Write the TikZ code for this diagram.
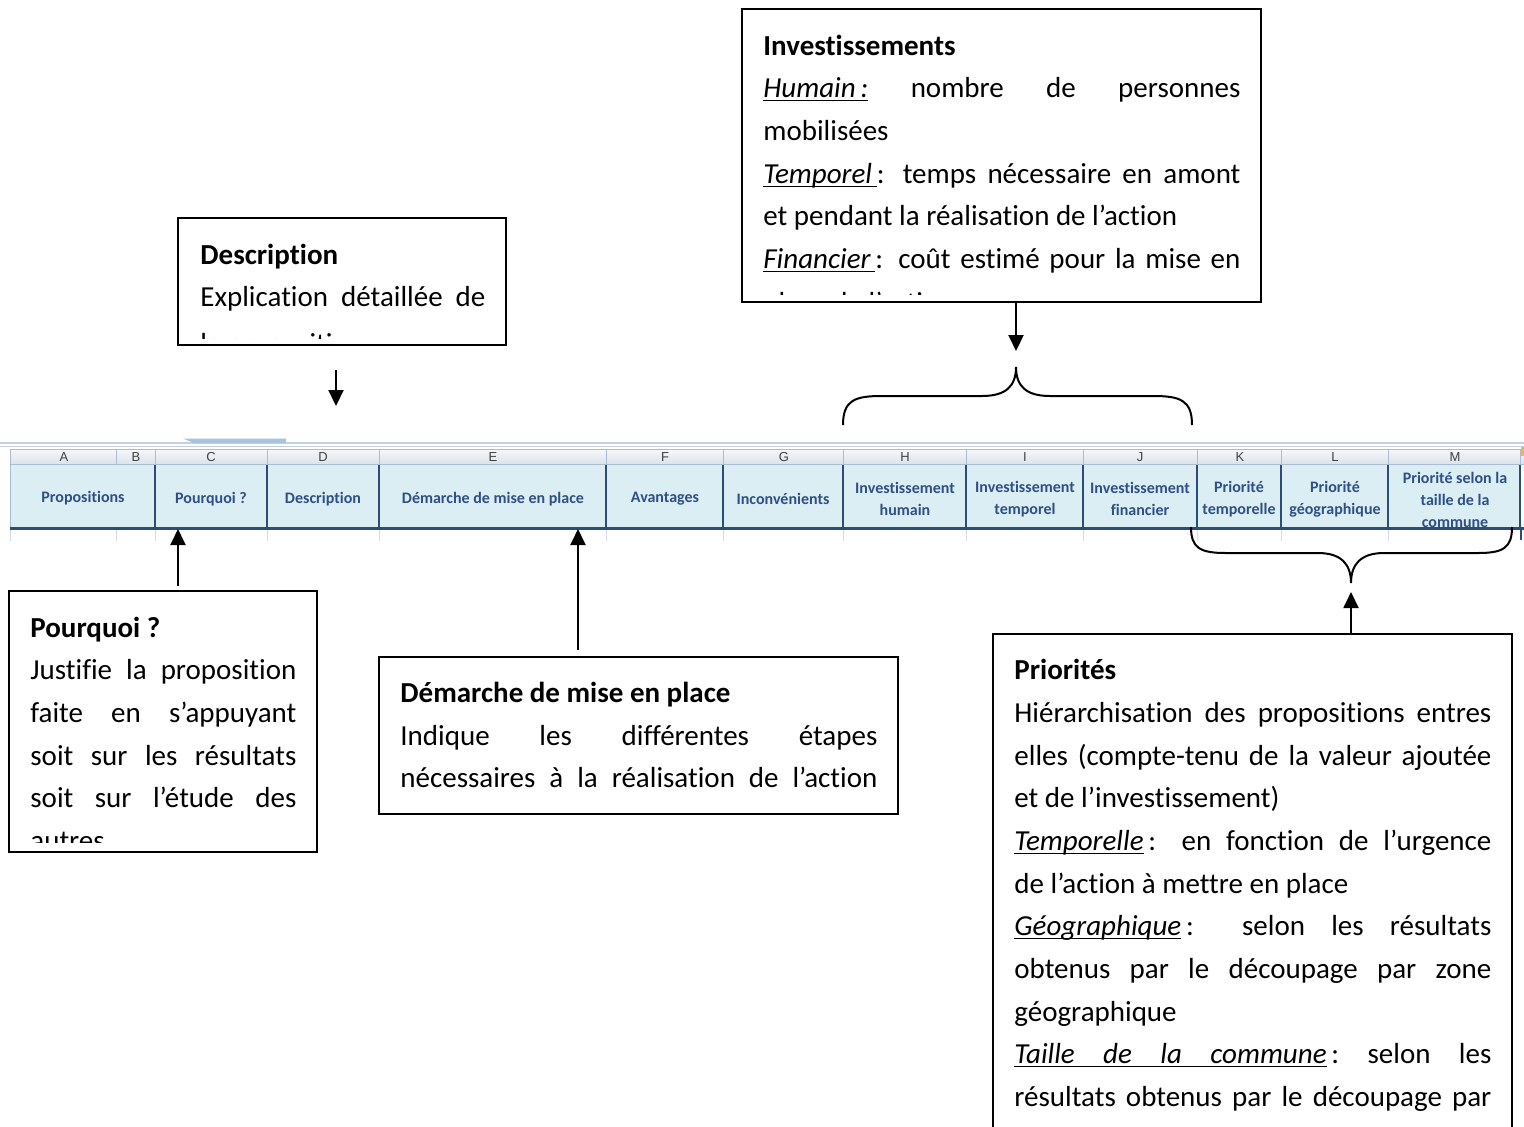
\documentclass[tikz,border=0pt]{standalone}
\usepackage{fontspec}
\setmainfont{Carlito}[Ligatures={NoCommon}]
\newfontfamily\xlsfont{Liberation Sans}
\usetikzlibrary{arrows.meta}
\definecolor{cellblue}{HTML}{DAEEF3}
\definecolor{darkb}{HTML}{2C4D75}
\definecolor{txtb}{HTML}{2F4F85}
\definecolor{gridl}{HTML}{D4DCE6}
\definecolor{hgrid}{HTML}{A9BCD3}
\definecolor{hdrtop}{HTML}{F4F6F9}
\definecolor{hdrbot}{HTML}{DCE3EB}
\definecolor{tabb}{HTML}{A8C2E2}
\definecolor{selor}{HTML}{F4B350}
\newcommand{\jline}[2]{\makebox[#1][s]{#2}}
\newcommand{\ulw}[1]{\setbox0=\hbox{#1}\rlap{\vrule height -1.5pt depth 2.2pt width \wd0}\box0\relax}
\newcommand{\ulsp}{\leaders\vrule height -1.5pt depth 2.2pt\hskip 3pt plus 1fil\relax}
\newcommand{\fsp}{\hskip 3pt plus 1fil\relax}
\begin{document}
\begin{tikzpicture}[x=0.5pt,y=-0.5pt,
  box/.style={draw=black, line width=0.8pt, fill=white, inner sep=0pt},
  txt/.style={anchor=base west, inner sep=0pt, font=\fontsize{14.5}{17}\selectfont},
  cell/.style={inner sep=0pt, align=center, text=txtb, font=\fontsize{8}{11}\selectfont\bfseries},
  hdr/.style={inner sep=0pt, text=black!75, font=\xlsfont\fontsize{6.5}{7}\selectfont},
  arr/.style={line width=1pt, -{Triangle[width=7.5pt,length=8pt]}},
  brace/.style={line width=1pt},
  darkl/.style={draw=darkb, line width=1.2pt},
  hgl/.style={draw=hgrid, line width=0.5pt},
  gl/.style={draw=gridl, line width=0.5pt}]
\useasboundingbox (0,0) rectangle (1524,1126);
\clip (0,0) rectangle (1524,1126);
\fill[white] (0,0) rectangle (1524,1126);

% ---------- spreadsheet strip ----------
\draw[draw=hgrid!70, line width=0.6pt] (0,443) -- (1524,443);
\draw[draw=hgrid!70, line width=0.6pt] (0,446.5) -- (1524,446.5);
\fill[tabb] (183,438.5) -- (286,438.5) -- (286,443) -- (194,443) -- cycle;
\shade[top color=hdrtop, bottom color=hdrbot] (10,450) rectangle (1524,464);
\draw[hgl] (10,449.5) -- (1524,449.5);
\draw[hgl] (10,464.5) -- (1524,464.5);
\fill[cellblue] (11,465) rectangle (1520,528);
\foreach \xx in {10,116,155,267,379,606,723,843,966,1083,1197,1281,1388}
  {\draw[hgl] (\xx,450) -- (\xx,464);
   \draw[gl] (\xx,529) -- (\xx,541);}
\draw[hgl] (1520,450) -- (1520,464);
\draw[hgl] (10,465) -- (10,528);
\fill[selor] (1521,447) rectangle (1524,456);

\node[hdr] (hA) at (64,457) {A};
\node[hdr] (hB) at (136,457) {B};
\node[hdr] (hC) at (211,457) {C};
\node[hdr] (hD) at (323,457) {D};
\node[hdr] (hE) at (493,457) {E};
\node[hdr] (hF) at (665,457) {F};
\node[hdr] (hG) at (784,457) {G};
\node[hdr] (hH) at (905,457) {H};
\node[hdr] (hI) at (1025,457) {I};
\node[hdr] (hJ) at (1140,457) {J};
\node[hdr] (hK) at (1240,457) {K};
\node[hdr] (hL) at (1335,457) {L};
\node[hdr] (hM) at (1455,457) {M};

\node[cell] (cA) at (83,498) {Propositions};
\node[cell] (cC) at (211,499) {Pourquoi ?};
\node[cell] (cD) at (323,499) {Description};
\node[cell] (cE) at (493,499) {Démarche de mise en place};
\node[cell] (cF) at (665,499) {Avantages};
\node[cell] (cG) at (783,499) {Inconvénients};
\node[cell] (cH) at (905,499) {Investissement\\humain};
\node[cell] (cI) at (1025,499) {Investissement\\temporel};
\node[cell] (cJ) at (1140,499) {Investissement\\financier};
\node[cell] (cK) at (1239,499) {Priorité\\temporelle};
\node[cell] (cL) at (1335,499) {Priorité\\géographique};
\node[cell] (cM) at (1455,500) {Priorité selon la\\taille de la\\commune};

\foreach \xx in {155,267,379,606,723,843,966,1083,1197,1281,1388,1520}
  {\draw[darkl] (\xx,465) -- (\xx,528);}
\draw[darkb, line width=1.5pt] (10,528.5) -- (1524,528.5);
\draw[darkl] (1521,528) -- (1521,540);

% ---------- Description ----------
\node[box, minimum width=164pt, minimum height=63.5pt] (desc) at (342,281.5) {};
\node[txt] (d1) at (200,264) {\bfseries Description};
\node[txt] (d2) at (200,306) {\jline{142.5pt}{Explication détaillée de}};
\begin{scope}
\clip (179,219) rectangle (505,338);
\node[txt] (d3) at (200,353) {la proposition};
\end{scope}
\coordinate (da) at (336,370);
\coordinate (db) at (336,406);
\draw[arr] (da) -- (db);

% ---------- Investissements ----------
\node[box, minimum width=259.5pt, minimum height=146.5pt] (inv) at (1001.5,155.5) {};
\node[txt] (i1) at (763,55) {\bfseries Investissements};
\node[txt] (i2) at (763,97) {\jline{238.5pt}{\ulw{\textit{Humain\,:}} nombre de personnes}};
\node[txt] (i3) at (763,140) {mobilisées};
\node[txt] (i4) at (763,183) {\jline{238.5pt}{\ulw{\textit{Temporel\,}}: temps nécessaire en amont}};
\node[txt] (i5) at (763,225) {et pendant la réalisation de l’action};
\node[txt] (i6) at (763,268) {\jline{238.5pt}{\ulw{\textit{Financier\,}}: coût estimé pour la mise en}};
\begin{scope}
\clip (743,10) rectangle (1260,294);
\node[txt] (i7) at (763,312) {place de l’action};
\end{scope}
\coordinate (ia) at (1016,302);
\coordinate (ib) at (1016,351);
\draw[arr] (ia) -- (ib);
\coordinate (bl) at (843,425);
\coordinate (bp) at (1016,367);
\coordinate (br) at (1192,425);
\draw[brace] (bl) .. controls (843,400) and (855,396) .. (882,396) -- (982,396)
  .. controls (1006,396) and (1016,386) .. (bp)
  .. controls (1016,386) and (1026,396) .. (1050,396) -- (1153,396)
  .. controls (1180,396) and (1192,400) .. (br);

% ---------- Pourquoi ----------
\node[box, minimum width=154pt, minimum height=130.5pt] (pq) at (163,721.5) {};
\node[txt] (p1) at (30,637) {\bfseries Pourquoi ?};
\node[txt] (p2) at (30,679) {\jline{133pt}{Justifie la proposition}};
\node[txt] (p3) at (30,722) {\jline{133pt}{faite en s’appuyant}};
\node[txt] (p4) at (30,765) {\jline{133pt}{soit sur les résultats}};
\node[txt] (p5) at (30,807) {\jline{133pt}{soit sur l’étude des}};
\begin{scope}
\clip (10,592) rectangle (316,842);
\node[txt] (p6) at (30,850) {autres};
\end{scope}
\coordinate (pa) at (178,586);
\coordinate (pb) at (178,529);
\draw[arr] (pa) -- (pb);

% ---------- Démarche ----------
\node[box, minimum width=259.5pt, minimum height=78.5pt] (dm) at (638.5,735.5) {};
\node[txt] (m1) at (400,702) {\bfseries Démarche de mise en place};
\node[txt] (m2) at (400,745) {\jline{238.5pt}{Indique les différentes étapes}};
\node[txt] (m3) at (400,787) {\jline{238.5pt}{nécessaires à la réalisation de l’action}};
\coordinate (ma) at (578,650);
\coordinate (mb) at (578,529);
\draw[arr] (ma) -- (mb);

% ---------- Priorités ----------
\node[box, minimum width=259.5pt, minimum height=253pt] (pr) at (1252.5,887) {};
\node[txt] (r1) at (1014,679) {\bfseries Priorités};
\node[txt] (r2) at (1014,722) {\jline{238.5pt}{Hiérarchisation des propositions entres}};
\node[txt] (r3) at (1014,765) {\jline{238.5pt}{elles (compte-tenu de la valeur ajoutée}};
\node[txt] (r4) at (1014,807) {et de l’investissement)};
\node[txt] (r5) at (1014,850) {\jline{238.5pt}{\ulw{\textit{Temporelle}}\,: en fonction de l’urgence}};
\node[txt] (r6) at (1014,893) {de l’action à mettre en place};
\node[txt] (r7) at (1014,935) {\jline{238.5pt}{\ulw{\textit{Géographique}}\,: selon les résultats}};
\node[txt] (r8) at (1014,978) {\jline{238.5pt}{obtenus par le découpage par zone}};
\node[txt] (r9) at (1014,1021) {géographique};
\node[txt] (r10) at (1014,1063) {\hbox to 238.5pt{\ulw{\textit{Taille}}\ulsp\ulw{\textit{de}}\ulsp\ulw{\textit{la}}\ulsp\ulw{\textit{commune}}\,:\fsp selon\fsp les}};
\node[txt] (r11) at (1014,1106) {\jline{238.5pt}{résultats obtenus par le découpage par}};
\coordinate (ra) at (1351,634);
\coordinate (rb) at (1351,592);
\draw[arr] (ra) -- (rb);
\coordinate (ql) at (1191,527);
\coordinate (qp) at (1351,583);
\coordinate (qr) at (1512,527);
\draw[brace] (ql) .. controls (1191,548) and (1200,553) .. (1226,553) -- (1318,553)
  .. controls (1342,553) and (1351,565) .. (qp)
  .. controls (1351,565) and (1360,553) .. (1384,553) -- (1478,553)
  .. controls (1503,553) and (1512,548) .. (qr);
\end{tikzpicture}
\end{document}
